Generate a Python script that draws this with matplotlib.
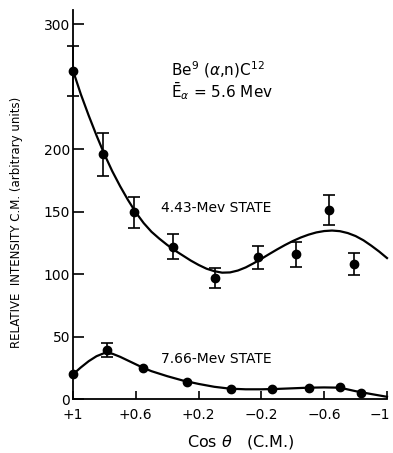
import matplotlib
matplotlib.use("Agg")
import matplotlib.pyplot as plt
import matplotlib.transforms as mtransforms

# ---- data ----
cos_443 = [1.0, 0.807, 0.61, 0.365, 0.096, -0.18, -0.418, -0.633, -0.79]
int_443 = [262.6, 196.0, 149.6, 122.0, 97.0, 113.6, 116.2, 151.4, 108.2]
err_443 = [20.0, 17.0, 12.6, 10.0, 8.0, 9.0, 10.0, 12.0, 9.0]

curve_443_x = [1.00, 0.95, 0.90, 0.85, 0.80, 0.75, 0.70, 0.65, 0.60, 0.55, 0.50,
               0.45, 0.40, 0.35, 0.30, 0.25, 0.20, 0.15, 0.10, 0.05, 0.00,
               -0.05, -0.10, -0.15, -0.20, -0.25, -0.30, -0.35, -0.40, -0.45,
               -0.50, -0.55, -0.60, -0.65, -0.70, -0.75, -0.80, -0.85,
               -0.90, -0.95, -1.00]
curve_443_y = [263, 244, 227, 211, 196, 182.5, 170.5, 159.5, 149.5, 141, 134,
               128.5, 123.5, 119, 115, 111, 107.5, 104.5, 102.5, 101.3, 101.5,
               103, 105.5, 108.8, 112.4, 116.2, 119.9, 123.4, 126.6, 129.4,
               131.7, 133.5, 134.6, 135.0, 134.5, 133.0, 130.6, 127.2,
               122.9, 118.2, 113.0]

cos_766 = [1.0, 0.785, 0.556, 0.277, -0.006, -0.266, -0.503, -0.70, -0.834]
int_766 = [20.0, 39.4, 24.8, 14.1, 8.2, 8.2, 9.3, 9.6, 5.3]
err_766 = [0, 5.5, 0, 0, 0, 0, 0, 0, 0]

curve_766_x = [1.00, 0.95, 0.90, 0.85, 0.80, 0.75, 0.70, 0.65, 0.60, 0.55, 0.50,
               0.40, 0.30, 0.20, 0.10, 0.00, -0.10, -0.20, -0.30, -0.40, -0.50,
               -0.60, -0.70, -0.80, -0.90, -1.00]
curve_766_y = [20, 25.5, 30.5, 34.5, 37, 36.5, 34, 31, 28, 25, 22.5,
               18.5, 15, 12.3, 10, 8.5, 8, 8, 8.3, 8.8, 9.3,
               9.5, 9.3, 6.5, 4.2, 2]

xticks = [1, 0.6, 0.2, -0.2, -0.6, -1]
xticklabels = ["+1", "+0.6", "+0.2", "\u22120.2", "\u22120.6", "\u22121"]
yticks = [0, 50, 100, 150, 200, 300]
yticklabels = ["0", "50", "100", "150", "200", "300"]

W, H = 393, 453
fig = plt.figure(figsize=(W / 100, H / 100), dpi=100)
plt.rcParams['font.family'] = ['DejaVu Sans']

def fx(px):
    return px / W

def fy(py):
    return 1 - py / H

left, right, bottom, top = 73, 387, 399.3, 10
ax = fig.add_axes([fx(left), fy(bottom), (right - left) / W, (bottom - top) / H])
ax.set_xlim(1, -1)
ax.set_ylim(0, (bottom - top) / 1.25)

for s in ["top", "right"]:
    ax.spines[s].set_visible(False)
for s in ["left", "bottom"]:
    ax.spines[s].set_linewidth(1.3)
    ax.spines[s].set_color("black")

ax.set_xticks(xticks)
ax.set_xticklabels(xticklabels)
ax.set_yticks(yticks)
ax.set_yticklabels(yticklabels)
ax.tick_params(axis="y", direction="in", length=8, width=1.2, pad=2, labelsize=10)
ax.tick_params(axis="x", direction="in", length=6, width=1.2, pad=6, labelsize=10)
last = ax.get_xticklabels()[-1]
last.set_horizontalalignment("right")
last.set_transform(last.get_transform() + mtransforms.ScaledTranslation(3 / 100, 0, fig.dpi_scale_trans))

# curves
ax.plot(curve_443_x, curve_443_y, color="black", lw=1.6, clip_on=False, zorder=2)
ax.plot(curve_766_x, curve_766_y, color="black", lw=1.6, clip_on=False, zorder=2)

# data with error bars
ax.errorbar(cos_443, int_443, yerr=err_443, fmt="o", color="black", ms=6,
            elinewidth=1.2, capsize=4, capthick=1.2, clip_on=False, zorder=3)
e766 = [(c, v, e) for c, v, e in zip(cos_766, int_766, err_766) if e > 0]
ax.plot(cos_766, int_766, "o", color="black", ms=6, clip_on=False, zorder=3)
ax.errorbar([t[0] for t in e766], [t[1] for t in e766], yerr=[t[2] for t in e766],
            fmt="none", ecolor="black", elinewidth=1.2, capsize=4, capthick=1.2,
            clip_on=False, zorder=3)

# annotations
fig.text(fx(171), fy(76), r"Be$^{9}$ ($\alpha$,n)C$^{12}$", fontsize=11,
         va="baseline", ha="left")
fig.text(fx(171), fy(97), r"$\bar{\mathrm{E}}_{\alpha}$ = 5.6 Mev", fontsize=11,
         va="baseline", ha="left")
fig.text(fx(161), fy(208), "4.43-Mev STATE", fontsize=10, va="center", ha="left")
fig.text(fx(161), fy(359), "7.66-Mev STATE", fontsize=10, va="center", ha="left")

fig.text(fx(17), fy(222), "RELATIVE  INTENSITY C.M. (arbitrary units)",
         rotation=90, fontsize=8.5, va="center", ha="center")
fig.text(fx(241), fy(442), r"Cos $\theta$   (C.M.)", fontsize=11.5,
         va="center", ha="center")

fig.savefig("out.png", dpi=100)
